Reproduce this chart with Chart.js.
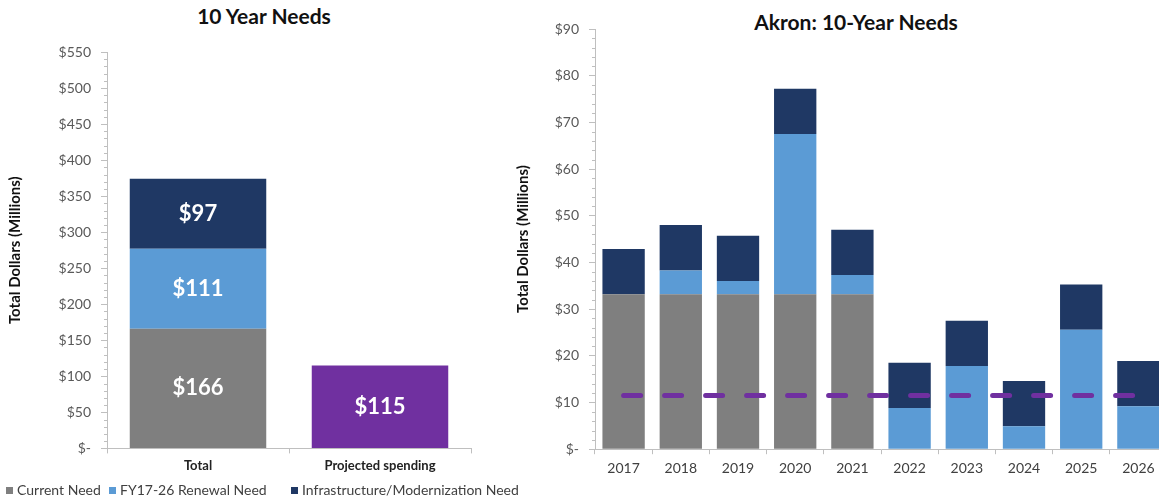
<!DOCTYPE html>
<html>
<head>
<meta charset="utf-8">
<script src="https://cdn.jsdelivr.net/npm/chart.js@4"></script>
<style>
    body { margin: 0; background: #fff; overflow: hidden; width: 1159px; height: 502px; position: relative; }
    .title { position: absolute; font-family: Lato, sans-serif; font-weight: bold; font-size: 21px; color: #111; white-space: nowrap; transform: translateX(-50%); }
    #boxTotal { position: absolute; left: 0; top: 0; width: 500px; height: 502px; }
    #boxYears { position: absolute; left: 510px; top: 0; width: 660px; height: 502px; }
    #legend { position: absolute; left: 0; top: 482px; width: 560px; height: 18px; font-family: Lato, sans-serif; font-size: 14px; color: #404040; }
    #legend span.item { position: absolute; top: 0; white-space: nowrap; line-height: 16px; }
    #legend i { display: inline-block; width: 7px; height: 7px; margin-right: 4px; vertical-align: 1px; }
</style>
</head>
<body>
<div class="title" style="left:264px; top:3px;">10 Year Needs</div>
<div class="title" style="left:856px; top:9px;">Akron: 10-Year Needs</div>
<div id="boxTotal"><canvas id="totalChart"></canvas></div>
<div id="boxYears"><canvas id="yearsChart"></canvas></div>
<div id="legend"></div>

<script>
// Tổng nhu cầu 10 năm (triệu USD)
const totalLabels = ['Total', 'Projected spending'];
const totalCurrent = [166, null];
const totalRenewal = [111, null];
const totalInfra = [97, null];
const totalProjected = [null, 115];
const totalTicks = { max: 550, step: 50, minor: 10 };

// Nhu cầu theo từng năm
const years = ['2017', '2018', '2019', '2020', '2021', '2022', '2023', '2024', '2025', '2026'];
const yearCurrent = [33.2, 33.2, 33.2, 33.2, 33.2, 0, 0, 0, 0, 0];
const yearRenewal = [0, 5.1, 2.8, 34.3, 4.1, 8.8, 17.8, 4.9, 25.6, 9.2];
const yearInfra = [9.7, 9.7, 9.7, 9.7, 9.7, 9.7, 9.7, 9.7, 9.7, 9.7];
const yearProjected = [11.5, 11.5, 11.5, 11.5, 11.5, 11.5, 11.5, 11.5, 11.5, 11.5];
const yearTicks = { max: 90, step: 10, minor: 2 };

const GRAY = '#7f7f7f', BLUE = '#5b9bd5', NAVY = '#1f3864', PURPLE = '#7030a0';
const AXIS = '#bfbfbf';
const FONT = 'Lato, sans-serif';

Chart.defaults.font.family = FONT;
Chart.defaults.animation = false;

function dollar(v) {
    return v === 0 ? '$-' : '$' + v;
}

// vạch chia phụ trên trục y
const minorTicks = {
    id: 'minorTicks',
    afterDraw(chart, args, opts) {
        const y = chart.scales.y;
        const ctx = chart.ctx;
        ctx.save();
        ctx.strokeStyle = AXIS;
        ctx.lineWidth = 1;
        for (let v = 0; v <= y.max + 1e-6; v += opts.step) {
            const r = Math.round(v * 1000) / 1000;
            if (Math.abs(r % opts.major) < 1e-6) continue;
            const py = Math.round(y.getPixelForValue(r)) + 0.5;
            ctx.beginPath();
            ctx.moveTo(y.right - 3, py);
            ctx.lineTo(y.right, py);
            ctx.stroke();
        }
        ctx.restore();
    }
};

// nhãn giá trị ở giữa mỗi cột
const barValues = {
    id: 'barValues',
    afterDatasetsDraw(chart) {
        const ctx = chart.ctx;
        ctx.save();
        ctx.fillStyle = '#fff';
        ctx.font = 'bold 22px ' + FONT;
        ctx.textAlign = 'center';
        ctx.textBaseline = 'middle';
        chart.data.datasets.forEach((ds, i) => {
            chart.getDatasetMeta(i).data.forEach((bar, j) => {
                const v = ds.data[j];
                if (v == null) return;
                ctx.fillText('$' + v, bar.x, (bar.y + bar.base) / 2);
            });
        });
        ctx.restore();
    }
};

function yAxis(t, width, titlePad) {
    return {
        stacked: true,
        min: 0,
        max: t.max,
        afterFit(scale) { scale.width = width; },
        border: { color: AXIS },
        grid: { drawOnChartArea: false, color: AXIS, tickLength: 6 },
        ticks: {
            stepSize: t.step,
            color: '#595959',
            font: { size: 14 },
            padding: 10,
            callback: dollar
        },
        title: {
            display: true,
            text: 'Total Dollars (Millions)',
            color: '#111',
            font: { size: 15, weight: 'bold' },
            padding: titlePad
        }
    };
}

// Biểu đồ tổng
const totalChart = new Chart(document.getElementById('totalChart'), {
    type: 'bar',
    data: {
        labels: totalLabels,
        datasets: [
            { label: 'Current Need', data: totalCurrent, backgroundColor: GRAY },
            { label: 'FY17-26 Renewal Need', data: totalRenewal, backgroundColor: BLUE },
            { label: 'Infrastructure/Modernization Need', data: totalInfra, backgroundColor: NAVY },
            { label: 'Projected spending', data: totalProjected, backgroundColor: PURPLE }
        ]
    },
    options: {
        responsive: true,
        maintainAspectRatio: false,
        categoryPercentage: 0.75,
        barPercentage: 1,
        layout: { padding: { top: 52, right: 29, left: 0, bottom: 23 } },
        plugins: {
            legend: { display: false },
            tooltip: { enabled: false },
            minorTicks: { step: totalTicks.minor, major: totalTicks.step }
        },
        scales: {
            x: {
                stacked: true,
                border: { color: AXIS },
                grid: { drawOnChartArea: false, color: AXIS, tickLength: 5 },
                ticks: { color: '#222', font: { size: 13, weight: 'bold' }, padding: 5 }
            },
            y: yAxis(totalTicks, 107, { top: 6, bottom: 0 })
        }
    },
    plugins: [minorTicks, barValues]
});

// chú thích: ba loại nhu cầu, lấy từ dataset
const legendPos = [6, 109, 291];
const legendEl = document.getElementById('legend');
totalChart.data.datasets.slice(0, 3).forEach((ds, i) => {
    const item = document.createElement('span');
    item.className = 'item';
    item.style.left = legendPos[i] + 'px';
    item.innerHTML = `<i style="background:${ds.backgroundColor}"></i>${ds.label}`;
    legendEl.appendChild(item);
});

// Biểu đồ theo năm
new Chart(document.getElementById('yearsChart'), {
    type: 'bar',
    data: {
        labels: years,
        datasets: [
            {
                type: 'line',
                label: 'Projected spending',
                data: yearProjected,
                borderColor: PURPLE,
                borderWidth: 5,
                borderDash: [17, 24],
                borderCapStyle: 'round',
                pointRadius: 0,
                fill: false,
                stack: 'line'
            },
            { label: 'Current Need', data: yearCurrent, backgroundColor: GRAY },
            { label: 'FY17-26 Renewal Need', data: yearRenewal, backgroundColor: BLUE },
            { label: 'Infrastructure/Modernization Need', data: yearInfra, backgroundColor: NAVY }
        ]
    },
    options: {
        responsive: true,
        maintainAspectRatio: false,
        categoryPercentage: 0.74,
        barPercentage: 1,
        layout: { padding: { top: 29, right: 3, left: 0, bottom: 19 } },
        plugins: {
            legend: { display: false },
            tooltip: { enabled: false },
            minorTicks: { step: yearTicks.minor, major: yearTicks.step }
        },
        scales: {
            x: {
                stacked: true,
                border: { color: AXIS },
                grid: { drawOnChartArea: false, color: AXIS, tickLength: 5, offset: true },
                ticks: { color: '#404040', font: { size: 14 }, padding: 6 }
            },
            y: yAxis(yearTicks, 85, { top: 4, bottom: 0 })
        }
    },
    plugins: [minorTicks]
});
</script>
</body>
</html>
